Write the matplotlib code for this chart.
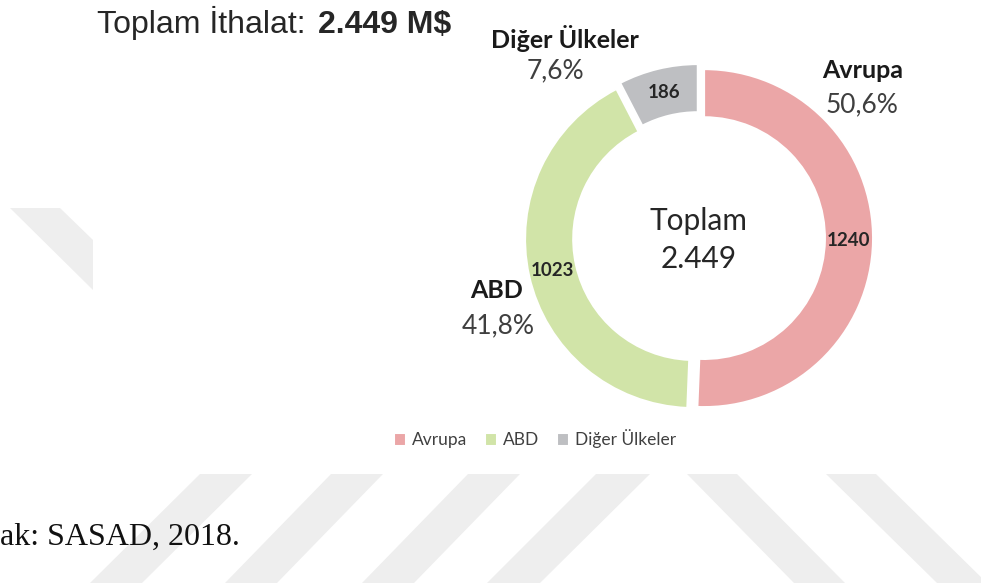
import matplotlib
matplotlib.use('Agg')
from matplotlib import pyplot as plt
from matplotlib.patches import Polygon
import numpy as np

W, H = 981, 583

categories = ['Avrupa', 'ABD', 'Diğer Ülkeler']
imports = [1240, 1023, 186]  # milyon $
colors = ['#EBA6A7', '#D1E4A8', '#BEBFC2']

total = sum(imports)
shares = [v / total * 100 for v in imports]


def fx(x):
    return x / W


def fy(y):
    return 1 - y / H


def tr(s):
    # Turkish number style: decimal comma
    return '{:.1f}%'.format(s).replace('.', ',')


fig = plt.figure(figsize=(W / 100, H / 100), dpi=100)

# faint watermark stripes in the page background (pixel coords)
stripes = [
    [(200, 474), (252, 474), (142, 583), (90, 583)],
    [(331, 474), (383, 474), (277, 583), (225, 583)],
    [(468, 474), (520, 474), (414, 583), (362, 583)],
    [(596, 474), (650, 474), (540, 583), (487, 583)],
    [(687, 474), (737, 474), (845, 583), (794, 583)],
    [(826, 474), (876, 474), (987, 583), (937, 583)],
    [(10, 208), (60, 208), (93, 240), (93, 290)],
]
for pts in stripes:
    fig.add_artist(Polygon([(fx(x), fy(y)) for x, y in pts], closed=True,
                           transform=fig.transFigure, facecolor='#EEEEEE',
                           edgecolor='none', zorder=0))

# donut
cx, cy, R = 699, 238, 169
half = 200
ax = fig.add_axes([fx(cx - half), fy(cy + half), 2 * half / W, 2 * half / H])
ring = 0.285
wedges, _ = ax.pie(imports, colors=colors, startangle=90, counterclock=False,
                   radius=1, explode=[0.03] * 3,
                   wedgeprops=dict(width=ring, edgecolor='white', linewidth=1.5))
lim = half / R
ax.set_xlim(-lim, lim)
ax.set_ylim(-lim, lim)
ax.patch.set_visible(False)

for w, v in zip(wedges, imports):
    mid = np.deg2rad((w.theta1 + w.theta2) / 2)
    r = w.r - w.width / 2
    x0, y0 = w.center
    ax.text(x0 + r * np.cos(mid), y0 + r * np.sin(mid), str(v),
            ha='center', va='center', fontsize=13.5, fontweight='bold',
            family='Lato', color='#262626')

fig.text(fx(cx), fy(230), 'Toplam', ha='center', va='baseline', fontsize=21.5,
         family='Lato', color='#262626')
fig.text(fx(cx), fy(268), '{:,}'.format(total).replace(',', '.'), ha='center',
         va='baseline', fontsize=21.5, family='Lato', color='#262626')

# category names + shares around the ring
label_pos = {
    'Avrupa': ((863, 78), (862, 112)),
    'ABD': ((497, 298), (498, 333)),
    'Diğer Ülkeler': ((565, 48), (555, 78)),
}
for cat, s in zip(categories, shares):
    (nx, ny), (px, py) = label_pos[cat]
    fig.text(fx(nx), fy(ny), cat, ha='center', va='baseline', fontsize=18,
             fontweight='bold', family='Lato', color='#1A1A1A')
    fig.text(fx(px), fy(py), tr(s), ha='center', va='baseline', fontsize=19,
             family='Lato', color='#3F3F3F')

# title: regular part + bold part
t1 = fig.text(fx(97), fy(33), 'Toplam İthalat:', ha='left', va='baseline',
              fontsize=23, family=['Liberation Sans'], color='#262626')
fig.canvas.draw()
bb = t1.get_window_extent()
fig.text((bb.x1 + 12) / W, fy(33), '{:,} M$'.format(total).replace(',', '.'),
         ha='left', va='baseline', fontsize=23, fontweight='bold',
         family=['Liberation Sans'], color='#262626')

fig.legend(wedges, categories, loc='center', bbox_to_anchor=(fx(535), fy(439)),
           ncol=3, frameon=False, handlelength=0.7, handleheight=0.75,
           handletextpad=0.35, columnspacing=1.0,
           prop={'family': 'Lato', 'size': 12.5}, labelcolor='#404040')

# source line (cropped on the left in the original)
fig.text(0, fy(545), 'ak: SASAD, 2018.', ha='left', va='baseline', fontsize=23,
         family='Liberation Serif', color='#111111')

fig.savefig('out.png', dpi=100)
